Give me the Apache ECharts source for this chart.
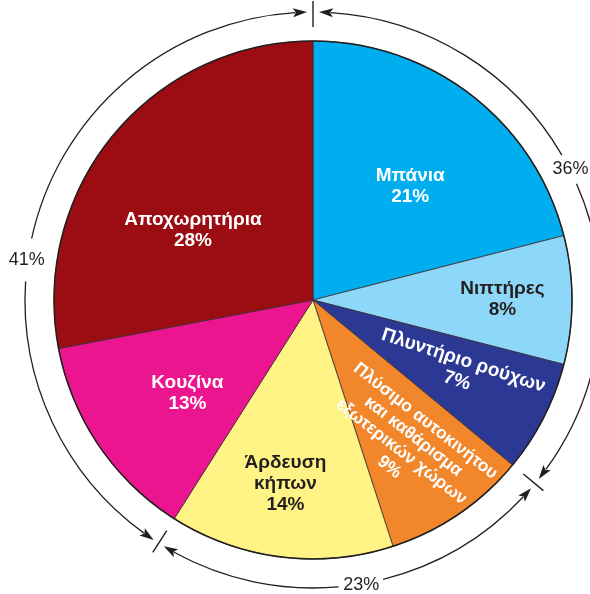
<!DOCTYPE html>
<html>
<head>
<meta charset="utf-8">
<script src="https://cdn.jsdelivr.net/npm/echarts@6/dist/echarts.min.js"></script>
<style>
html,body{margin:0;padding:0;background:#fff;}
#chart{width:590px;height:594px;}
</style>
</head>
<body>
<div id="chart"></div>
<script>
// ---- data ----
const categories = ['Μπάνια', 'Νιπτήρες', 'Πλυντήριο ρούχων', 'Πλύσιμο αυτοκινήτου\nκαι καθάρισμα\nεξωτερικών χώρων', 'Άρδευση\nκήπων', 'Κουζίνα', 'Αποχωρητήρια'];
const values = [21, 8, 7, 9, 14, 13, 28];
const groupValues = [36, 23, 41];
const groupLabels = ['36%', '23%', '41%'];

// ---- styles / layout ----
const colors = ['#00ADEF', '#8DD8F8', '#2B3894', '#F1862A', '#FFF385', '#EC1590', '#9B0D12'];
const textColors = ['#ffffff', '#231f20', '#ffffff', '#ffffff', '#231f20', '#ffffff', '#ffffff'];
const labelRotate = [0, 0, -18, -38, 0, 0, 0];
const labelSize = [19, 19, 19, 17.5, 19, 19, 19];
const labelLineH = [21, 21, 21, 19.5, 21, 21, 21];
const labelOffset = [[16, -9], [57, -1], [31, 1], [37, 15], [-11, 52], [-16, 19], [-18, 15]];
const groupLabelShift = [-1.8, -0.6, -8.2];   // degrees from group midpoint
const groupLabelHalfGap = [3.2, 4.5, 4.3];     // degrees
const CX = 313, CY = 300, R = 259, R_ARC = 288;
const INK = '#231f20';

function pt(r, deg) {
  const a = (deg - 90) * Math.PI / 180;
  return [CX + r * Math.cos(a), CY + r * Math.sin(a)];
}
function rad(deg) { return (deg - 90) * Math.PI / 180; }

const graphics = [];
// outer circle
graphics.push({type: 'circle', z: 100, shape: {cx: CX, cy: CY, r: R}, style: {fill: null, stroke: INK, lineWidth: 1.5}});

const total = groupValues.reduce((a, b) => a + b, 0);
const bounds = [0];
groupValues.forEach((v, i) => bounds.push(bounds[i] + v / total * 360));

const tipGap = 6 / R_ARC * 180 / Math.PI;
const arrowLen = 14 / R_ARC * 180 / Math.PI;
const arrowHW = 4.5;

function arrow(tipDeg, dir) { // dir: +1 arrow body lies at larger angles
  const baseDeg = tipDeg + dir * arrowLen;
  const notchDeg = tipDeg + dir * arrowLen * 0.8;
  return {type: 'polygon', z: 100, shape: {points: [pt(R_ARC, tipDeg), pt(R_ARC - arrowHW, baseDeg), pt(R_ARC, notchDeg), pt(R_ARC + arrowHW, baseDeg)]}, style: {fill: INK}};
}
function arc(d1, d2) {
  return {type: 'arc', z: 100, shape: {cx: CX, cy: CY, r: R_ARC, startAngle: rad(d1), endAngle: rad(d2), clockwise: true}, style: {fill: null, stroke: INK, lineWidth: 1.3}};
}

for (let i = 0; i < groupValues.length; i++) {
  const s = bounds[i], e = bounds[i + 1];
  const mid = (s + e) / 2 + groupLabelShift[i];
  const hg = groupLabelHalfGap[i];
  graphics.push(arc(s + tipGap + arrowLen * 0.85, mid - hg));
  graphics.push(arc(mid + hg, e - tipGap - arrowLen * 0.85));
  graphics.push(arrow(s + tipGap, 1));
  graphics.push(arrow(e - tipGap, -1));
  const p = pt(R_ARC + 1, mid);
  graphics.push({type: 'text', z: 100, x: p[0], y: p[1], style: {text: groupLabels[i], font: '18px "Liberation Sans", Arial, sans-serif', fill: INK, align: 'center', verticalAlign: 'middle'}});
}
// boundary ticks
for (let i = 0; i < groupValues.length; i++) {
  const a = pt(273, bounds[i]), b = pt(299, bounds[i]);
  graphics.push({type: 'line', z: 100, shape: {x1: a[0], y1: a[1], x2: b[0], y2: b[1]}, style: {stroke: INK, lineWidth: 1.4}});
}

const pieData = categories.map((name, i) => ({
  name: name,
  value: values[i],
  itemStyle: {color: colors[i]},
  label: {color: textColors[i], rotate: labelRotate[i], fontSize: labelSize[i], lineHeight: labelLineH[i]}
}));

const chart = echarts.init(document.getElementById('chart'), null, {renderer: 'canvas'});
chart.setOption({
  animation: false,
  backgroundColor: '#ffffff',
  graphic: graphics,
  series: [{
    type: 'pie',
    center: [CX, CY],
    radius: R,
    startAngle: 90,
    clockwise: true,
    avoidLabelOverlap: false,
    silent: true,
    itemStyle: {borderColor: '#3a2e30', borderWidth: 0.8},
    label: {
      show: true,
      position: 'inside',
      formatter: '{b}\n{c}%',
      fontFamily: '"Liberation Sans", Arial, sans-serif',
      fontWeight: 'bold',
      fontSize: 19,
      lineHeight: 21,
      align: 'center'
    },
    labelLine: {show: false},
    labelLayout: function (params) {
      const o = labelOffset[params.dataIndex];
      return {dx: o[0], dy: o[1]};
    },
    emphasis: {disabled: true},
    data: pieData
  }]
});
</script>
</body>
</html>
